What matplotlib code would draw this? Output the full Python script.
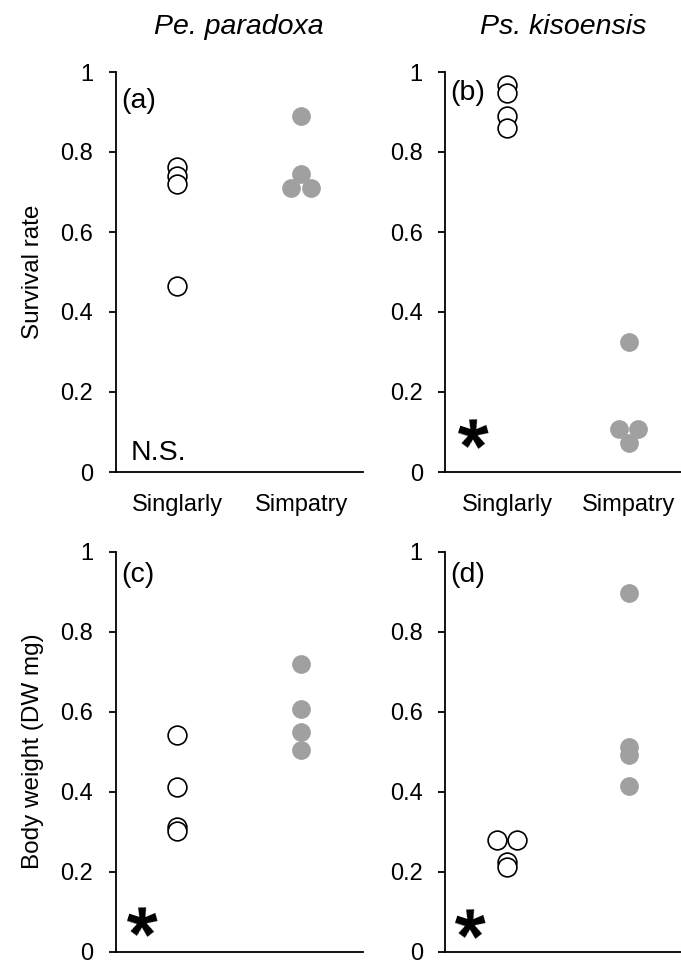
import matplotlib
matplotlib.use("Agg")
import matplotlib.pyplot as plt

plt.rcParams['font.family'] = ['Liberation Sans', 'DejaVu Sans']

groups = ['Singlarly', 'Simpatry']
species = ['Pe. paradoxa', 'Ps. kisoensis']

# survival rate
surv_pe_single = [0.762, 0.741, 0.720, 0.466]
surv_pe_single_x = [1, 1, 1, 1]
surv_pe_symp = [0.891, 0.745, 0.709, 0.709]
surv_pe_symp_x = [2, 2, 1.92, 2.08]

surv_ps_single = [0.967, 0.948, 0.889, 0.861]
surv_ps_single_x = [1, 1, 1, 1]
surv_ps_symp = [0.326, 0.108, 0.108, 0.072]
surv_ps_symp_x = [2, 1.92, 2.08, 2]

# body weight
bw_pe_single = [0.541, 0.412, 0.312, 0.301]
bw_pe_single_x = [1, 1, 1, 1]
bw_pe_symp = [0.719, 0.606, 0.548, 0.505]
bw_pe_symp_x = [2, 2, 2, 2]

bw_ps_single = [0.278, 0.278, 0.224, 0.212]
bw_ps_single_x = [0.92, 1.08, 1, 1]
bw_ps_symp = [0.897, 0.512, 0.491, 0.414]
bw_ps_symp_x = [2, 2, 2, 2]

panel_tags = ['(a)', '(b)', '(c)', '(d)']
signif = ['N.S.', '*', '*', '*']

gray = '#a0a0a0'
fig = plt.figure(figsize=(6.81, 9.65), dpi=100)

H = 400 / 965
pos = [
    [115.5 / 681, 1 - 472 / 965, 247.5 / 681, H],
    [445 / 681, 1 - 472 / 965, 236 / 681, H],
    [115.5 / 681, 1 - 951.5 / 965, 247.5 / 681, H],
    [445 / 681, 1 - 951.5 / 965, 236 / 681, H],
]
xlims = [(0.5, 2.5), (0.49, 2.43), (0.5, 2.5), (0.49, 2.43)]
data = [
    (surv_pe_single_x, surv_pe_single, surv_pe_symp_x, surv_pe_symp),
    (surv_ps_single_x, surv_ps_single, surv_ps_symp_x, surv_ps_symp),
    (bw_pe_single_x, bw_pe_single, bw_pe_symp_x, bw_pe_symp),
    (bw_ps_single_x, bw_ps_single, bw_ps_symp_x, bw_ps_symp),
]
tag_y = [0.928, 0.948, 0.94, 0.94]
# the asterisk is five-fold symmetric, so a 72 degree turn keeps its look
# while keeping the text box inside the figure
star_xy = [None, (0.200, 0.083), (0.184, 0.0615), (0.187, 0.0575)]

axes = []
for i in range(4):
    ax = fig.add_axes(pos[i])
    axes.append(ax)
    xs1, ys1, xs2, ys2 = data[i]
    ax.plot(xs1, ys1, 'o', ms=13.5, mfc='white', mec='black', mew=1.2,
            ls='none', clip_on=False, zorder=3)
    ax.plot(xs2, ys2, 'o', ms=13.5, mfc=gray, mec=gray, mew=0,
            ls='none', clip_on=False, zorder=3)
    ax.set_xlim(*xlims[i])
    ax.set_ylim(0, 1)
    ax.set_yticks([0, 0.2, 0.4, 0.6, 0.8, 1])
    ax.set_yticklabels(['0', '0.2', '0.4', '0.6', '0.8', '1'])
    ax.spines['top'].set_visible(False)
    ax.spines['right'].set_visible(False)
    ax.spines['left'].set_linewidth(1.3)
    ax.spines['bottom'].set_linewidth(1.3)
    ax.tick_params(axis='y', direction='out', length=5, width=1.3,
                   labelsize=17, pad=11)
    if i < 2:
        ax.set_xticks([1, 2])
        ax.set_xticklabels(groups)
        ax.tick_params(axis='x', length=0, labelsize=17, pad=15.5)
    else:
        ax.set_xticks([])
    ax.text(0.022, tag_y[i], panel_tags[i], transform=ax.transAxes,
            fontsize=20.5, va='center', ha='left')
    if signif[i] == 'N.S.':
        ax.text(0.06, 0.015, 'N.S.', transform=ax.transAxes,
                fontsize=20.5, va='bottom', ha='left')
    else:
        ax.text(star_xy[i][0], star_xy[i][1], '*', transform=ax.transAxes,
                fontsize=56, fontweight='bold', va='center', ha='center',
                rotation=72, rotation_mode='anchor')

axes[0].set_title(species[0], fontsize=20.5, style='italic', pad=27)
axes[1].set_title(species[1], fontsize=20.5, style='italic', pad=27)
axes[0].set_ylabel('Survival rate', fontsize=17.5, labelpad=12)
axes[2].set_ylabel('Body weight (DW mg)', fontsize=17.5, labelpad=12)

fig.savefig('out.png', dpi=100)
